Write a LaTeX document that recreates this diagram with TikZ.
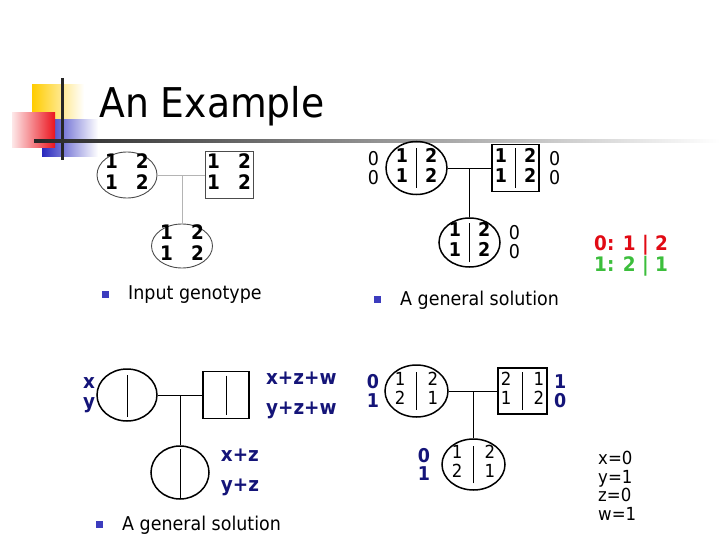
\documentclass[tikz,border=0pt]{standalone}
\usepackage{fontspec}
\setmainfont[FakeStretch=0.92]{DejaVu Sans}
\usepackage{tikz}
\usetikzlibrary{shapes.geometric, positioning}
\definecolor{logoyellow}{RGB}{255, 204, 0}
\definecolor{logored}{RGB}{235, 20, 30}
\definecolor{logoblue}{RGB}{40, 40, 190}
\definecolor{bulletblue}{RGB}{60, 60, 190}
\definecolor{navy}{RGB}{20, 20, 120}
\definecolor{solred}{RGB}{225, 10, 20}
\definecolor{solgreen}{RGB}{60, 190, 60}
\definecolor{linkgray}{RGB}{180, 180, 180}

\begin{document}
\begin{tikzpicture}[
    x=1pt, y=-1pt,
    fem/.style={ellipse, draw, line width=1.5pt, inner sep=0pt},
    male/.style={rectangle, draw, line width=1.8pt, inner sep=0pt},
    faint/.style={draw=black!70, line width=0.9pt},
    kin/.style={draw, line width=0.9pt},
    divider/.style={draw, line width=0.9pt},
    geno/.style={inner sep=0pt, font=\fontsize{19}{19}\selectfont\bfseries
                 \setlength\tabcolsep{8.5pt}\setlength\arrayrulewidth{0.9pt}},
    genoin/.style={inner sep=0pt, font=\fontsize{20}{21}\selectfont\bfseries
                 \setlength\tabcolsep{9pt}},
    genoplain/.style={inner sep=0pt, font=\fontsize{18}{18.5}\selectfont
                 \setlength\tabcolsep{11pt}\setlength\arrayrulewidth{0.9pt}},
    lab/.style={align=center, inner sep=0pt, font=\fontsize{19}{19}\selectfont},
    navylab/.style={align=center, inner sep=0pt, text=navy,
                    font=\fontsize{20}{20}\selectfont\bfseries},
    item/.style={anchor=base west, inner sep=0pt, font=\fontsize{19}{19}\selectfont},
    bulletsq/.style={rectangle, fill=bulletblue, minimum size=7pt, inner sep=0pt},
]
    \useasboundingbox (0,0) rectangle (720,540);

    % logo and title rule
    \shade[left color=logoyellow, middle color=logoyellow, right color=white] (32,85) rectangle (84,121);
    \shade[left color=logoblue, middle color=logoblue!80, right color=white] (42,120) rectangle (98,157);
    \shade[left color=logored!10, right color=logored] (12,113) rectangle (55,148);
    \draw[line width=3pt, black!85] (62,78) -- (62,160);
    \shade[left color=black!85, right color=white] (34,139.5) rectangle (720,142.5);
    \node[anchor=base west, inner sep=0pt, font=\fontsize{41}{41}\selectfont] (title) at (99,118) {An Example};

    % input genotype
    \node[fem, faint, minimum width=60pt, minimum height=46pt] (mom1) at (127,175) {};
    \node[genoin] (mom1g) at (mom1) {\begin{tabular}{cc}1&2\\1&2\end{tabular}};
    \node[male, faint, minimum width=48pt, minimum height=47pt] (dad1) at (229,175) {};
    \node[genoin] (dad1g) at (dad1) {\begin{tabular}{cc}1&2\\1&2\end{tabular}};
    \node[fem, faint, minimum width=61pt, minimum height=44pt] (kid1) at (182,246) {};
    \node[genoin] (kid1g) at (kid1) {\begin{tabular}{cc}1&2\\1&2\end{tabular}};
    \draw[kin, draw=linkgray] (mom1) -- (dad1);
    \draw[kin, draw=linkgray] (kid1) -- (kid1 |- mom1);
    \node[item] (inp) at (128,299) {Input genotype};
    \node[bulletsq, left=19pt of inp.west] (inpb) {};

    % phased solution
    \node[fem, minimum width=61pt, minimum height=53pt] (mom2) at (416.5,168) {};
    \node[geno] (mom2g) at (mom2) {\begin{tabular}{c|c}1&2\\1&2\end{tabular}};
    \node[lab, left=6pt of mom2] (mom2l) {0\\0};
    \node[male, minimum width=47pt, minimum height=47pt] (dad2) at (515.5,168) {};
    \node[geno] (dad2g) at (dad2) {\begin{tabular}{c|c}1&2\\1&2\end{tabular}};
    \node[lab, right=9pt of dad2] (dad2l) {0\\0};
    \node[fem, minimum width=61pt, minimum height=49pt] (kid2) at (469.5,242.5) {};
    \node[geno] (kid2g) at (kid2) {\begin{tabular}{c|c}1&2\\1&2\end{tabular}};
    \node[lab, right=8pt of kid2] (kid2l) {0\\0};
    \draw[kin] (mom2) -- (dad2);
    \draw[kin] (kid2) -- (kid2 |- mom2);
    \node[anchor=west, align=left, inner sep=0pt, font=\fontsize{20}{18}\selectfont\bfseries] (code) at (594,256)
          {\textcolor{solred}{0: 1 | 2}\\\textcolor{solgreen}{1: 2 | 1}};
    \node[item] (gen1) at (400,305) {A general solution};
    \node[bulletsq, left=19pt of gen1.west] (gen1b) {};

    % general solution
    \node[fem, minimum width=60pt, minimum height=52pt] (mom3) at (127,395) {};
    \draw[divider] ([yshift=-7pt]mom3.north) -- ([yshift=5pt]mom3.south);
    \node[navylab, left=1pt of mom3] (mom3l) {x\\y};
    \node[male, minimum width=46pt, minimum height=47pt] (dad3) at (226,395) {};
    \draw[divider] ([yshift=-5pt]dad3.north) -- ([yshift=4pt]dad3.south);
    \node[navylab, align=left, font=\fontsize{20}{30}\selectfont\bfseries, right=16pt of dad3] (dad3l) {x+z+w\\y+z+w};
    \node[fem, minimum width=58pt, minimum height=53pt] (kid3) at (180,472.5) {};
    \draw[divider] ([yshift=-4pt]kid3.north) -- ([yshift=2pt]kid3.south);
    \node[navylab, align=left, font=\fontsize{20}{30}\selectfont\bfseries, right=11pt of kid3] (kid3l) {x+z\\y+z};
    \draw[kin] (mom3) -- (dad3);
    \draw[kin] (kid3) -- (kid3 |- mom3);
    \node[item] (gen2) at (122,530) {A general solution};
    \node[bulletsq, left=19pt of gen2.west] (gen2b) {};

    % instance of the general solution
    \node[fem, minimum width=63pt, minimum height=52pt] (mom4) at (416.5,391) {};
    \node[genoplain] (mom4g) at (mom4) {\begin{tabular}{c|c}1&2\\2&1\end{tabular}};
    \node[navylab, font=\fontsize{19}{18.5}\selectfont\bfseries, left=5pt of mom4] (mom4l) {0\\1};
    \node[male, minimum width=49pt, minimum height=46pt] (dad4) at (522.5,391) {};
    \node[genoplain] (dad4g) at (dad4) {\begin{tabular}{c|c}2&1\\1&2\end{tabular}};
    \node[navylab, font=\fontsize{19}{18.5}\selectfont\bfseries, right=6pt of dad4] (dad4l) {1\\0};
    \node[fem, minimum width=63pt, minimum height=51pt] (kid4) at (473.5,464.5) {};
    \node[genoplain] (kid4g) at (kid4) {\begin{tabular}{c|c}1&2\\2&1\end{tabular}};
    \node[navylab, font=\fontsize{19}{18.5}\selectfont\bfseries, left=11pt of kid4] (kid4l) {0\\1};
    \draw[kin] (mom4) -- (dad4);
    \draw[kin] (kid4) -- (kid4 |- mom4);
    \node[anchor=west, align=left, inner sep=0pt, font=\fontsize{18}{18.5}\selectfont] (vals) at (598,486)
          {x=0\\y=1\\z=0\\w=1};
\end{tikzpicture}
\end{document}
